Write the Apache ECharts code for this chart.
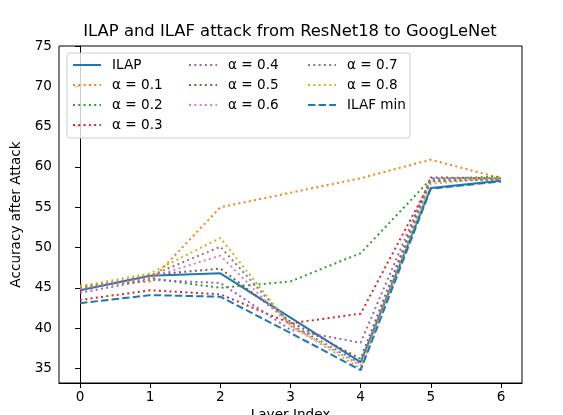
<!DOCTYPE html>
<html>
<head>
<meta charset="utf-8">
<script src="https://cdn.jsdelivr.net/npm/echarts@6/dist/echarts.min.js"></script>
<style>
  html, body { margin: 0; padding: 0; background: #fff; }
  #chart { width: 563px; height: 415px; }
</style>
</head>
<body>
<div id="chart"></div>
<script>
  // 数据
  const layers = [0, 1, 2, 3, 4, 5, 6];
  const yTicks = [35, 40, 45, 50, 55, 60, 65, 70, 75];
  const ilap = [44.7, 46.5, 46.8, 41.3, 35.8, 57.4, 58.3];
  const alpha01 = [45.3, 45.8, 55.0, 56.8, 58.6, 60.9, 58.6];
  const alpha02 = [44.8, 46.2, 45.0, 45.8, 49.3, 58.5, 58.8];
  const alpha03 = [43.5, 44.7, 44.2, 40.6, 41.8, 58.2, 58.5];
  const alpha04 = [44.4, 46.0, 45.6, 39.8, 38.2, 58.6, 58.5];
  const alpha05 = [44.7, 46.6, 47.4, 40.8, 36.2, 58.7, 58.6];
  const alpha06 = [44.9, 46.3, 49.0, 40.3, 35.4, 58.4, 58.5];
  const alpha07 = [45.0, 46.5, 50.1, 40.5, 35.6, 58.3, 58.4];
  const alpha08 = [45.2, 46.8, 51.2, 40.3, 35.0, 57.9, 58.7];
  const ilafMin = [43.1, 44.1, 43.9, 39.4, 34.8, 57.3, 58.2];

  const font = "DejaVu Sans";
  const dotted = [2, 3.3];

  function pairs(vals) {
    return layers.map((x, i) => [x, vals[i]]);
  }

  function makeSeries(name, vals, color, type) {
    return {
      name: name,
      type: "line",
      data: pairs(vals),
      symbol: "none",
      lineStyle: { color: color, width: 2, type: type, cap: "butt" },
      itemStyle: { color: color },
    };
  }

  const series = [
    makeSeries("ILAP", ilap, "#1f77b4", "solid"),
    makeSeries("α = 0.1", alpha01, "#ff7f0e", dotted),
    makeSeries("α = 0.2", alpha02, "#2ca02c", dotted),
    makeSeries("α = 0.3", alpha03, "#d62728", dotted),
    makeSeries("α = 0.4", alpha04, "#9467bd", dotted),
    makeSeries("α = 0.5", alpha05, "#8c564b", dotted),
    makeSeries("α = 0.6", alpha06, "#e377c2", dotted),
    makeSeries("α = 0.7", alpha07, "#7f7f7f", dotted),
    makeSeries("α = 0.8", alpha08, "#bcbd22", dotted),
    makeSeries("ILAF min", ilafMin, "#1f77b4", [7.4, 3.2]),
  ];

  const legendBase = {
    orient: "vertical",
    top: 58,
    padding: 0,
    itemWidth: 28,
    itemHeight: 14,
    itemGap: 6,
    itemStyle: { opacity: 0 },
    textStyle: { fontFamily: font, fontSize: 13.6, lineHeight: 14, color: "#000", padding: [0, 0, 0, 6] },
    selectedMode: false,
    z: 110,
  };

  const chart = echarts.init(document.getElementById("chart"));
  chart.setOption({
    animation: false,
    backgroundColor: "#fff",
    title: {
      text: "ILAP and ILAF attack from ResNet18 to GoogLeNet",
      left: 290,
      textAlign: "center",
      top: 24,
      padding: 0,
      textStyle: { fontFamily: font, fontSize: 16.4, fontWeight: "normal", color: "#000" },
    },
    graphic: [
      {
        type: "rect",
        shape: { x: 67, y: 53, width: 343, height: 85, r: 3 },
        style: { fill: "rgba(255,255,255,0.8)", stroke: "#cccccc", lineWidth: 1 },
        z: 100,
      },
    ],
    legend: [
      Object.assign({}, legendBase, { left: 72, data: ["ILAP", "α = 0.1", "α = 0.2", "α = 0.3"] }),
      Object.assign({}, legendBase, { left: 188, data: ["α = 0.4", "α = 0.5", "α = 0.6"] }),
      Object.assign({}, legendBase, { left: 307, data: ["α = 0.7", "α = 0.8", "ILAF min"] }),
    ],
    grid: {
      left: 59,
      right: 41,
      top: 46,
      bottom: 32,
      outerBoundsMode: "none",
      containLabel: false,
      show: true,
      borderColor: "#000",
      borderWidth: 1,
    },
    xAxis: {
      type: "value",
      min: -0.3,
      max: 6.3,
      name: "Layer Index",
      nameLocation: "middle",
      nameGap: 25,
      nameTextStyle: { fontFamily: font, fontSize: 13.6, color: "#000", verticalAlign: "top" },
      axisLine: { show: true, lineStyle: { color: "#000", width: 1 } },
      axisTick: { show: true, length: 5, lineStyle: { color: "#000" }, customValues: layers },
      axisLabel: { fontFamily: font, fontSize: 13.6, color: "#000", margin: 7, customValues: layers },
      splitLine: { show: false },
    },
    yAxis: {
      type: "value",
      min: 33.2,
      max: 75,
      name: "Accuracy after Attack",
      nameLocation: "middle",
      nameGap: 32,
      nameTextStyle: { fontFamily: font, fontSize: 13.6, color: "#000" },
      axisLine: { show: true, lineStyle: { color: "#000", width: 1 } },
      axisTick: { show: true, length: 5, lineStyle: { color: "#000" }, customValues: yTicks },
      axisLabel: { fontFamily: font, fontSize: 13.6, color: "#000", margin: 7, customValues: yTicks },
      splitLine: { show: false },
    },
    series: series,
  });
</script>
</body>
</html>
